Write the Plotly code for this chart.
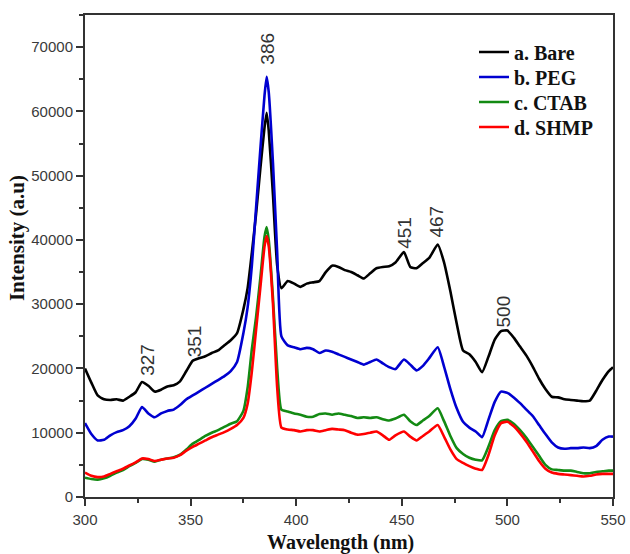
import plotly.graph_objects as go

# Photoluminescence spectra of the nanoparticles (intensity in a.u.)
wavelength = [300, 303, 306, 309, 312, 315, 318, 321, 324, 327, 330, 333, 336, 339, 342, 345, 348, 351,
              354, 357, 360, 363, 366, 369, 372, 375, 377, 379, 381, 383, 385, 386, 387, 389, 391, 393,
              396, 399, 402, 405, 408, 411, 414, 417, 420, 423, 426, 429, 432, 435, 438, 441, 444, 447,
              451, 454, 457, 460, 463, 467, 470, 473, 476, 479, 482, 485, 488, 491, 494, 497, 500, 503,
              506, 509, 512, 515, 518, 521, 524, 527, 530, 533, 536, 539, 542, 545, 548, 550]

bare = [20.0, 17.8, 15.8, 15.2, 15.1, 15.2, 15.0, 15.6, 16.3, 17.9, 17.3, 16.4, 16.7, 17.2, 17.4, 18.0, 19.6, 21.2,
        21.6, 21.9, 22.4, 22.8, 23.6, 24.4, 25.5, 29.2, 32.5, 38.0, 44.0, 51.0, 57.5, 59.8, 57.0, 47.0, 36.0, 32.5,
        33.6, 33.2, 32.7, 33.2, 33.4, 33.6, 35.0, 36.0, 35.8, 35.3, 35.0, 34.5, 34.0, 34.8, 35.6, 35.8, 35.9, 36.5,
        38.1, 35.8, 35.6, 36.4, 37.2, 39.3, 36.5, 32.0, 27.0, 22.8, 22.2, 21.0, 19.4, 21.8, 24.5, 25.8, 25.9, 24.8,
        23.4, 22.0, 20.3, 18.4, 16.8, 15.6, 15.5, 15.2, 15.1, 15.0, 14.9, 15.0, 16.5, 18.2, 19.6, 20.2]

peg = [11.5, 9.8, 8.8, 8.9, 9.6, 10.1, 10.4, 11.0, 12.2, 14.0, 13.0, 12.4, 13.0, 13.4, 13.6, 14.3, 15.2, 15.8,
       16.4, 17.0, 17.6, 18.2, 18.8, 19.6, 21.0, 25.5, 29.5, 36.0, 45.0, 54.0, 62.5, 65.4, 63.0, 52.0, 38.0, 25.0,
       23.6, 23.3, 23.0, 23.2, 23.0, 22.4, 22.8, 22.6, 22.2, 21.8, 21.4, 21.0, 20.6, 21.0, 21.4, 20.8, 20.2, 19.9,
       21.4, 20.6, 19.7, 20.4, 21.6, 23.3, 20.3, 16.8, 13.8, 11.7, 10.8, 10.2, 9.3, 12.0, 14.8, 16.4, 16.2, 15.5,
       14.6, 13.6, 12.6, 11.2, 9.8, 8.5, 7.7, 7.5, 7.6, 7.6, 7.7, 7.6, 7.9, 8.9, 9.4, 9.4]

ctab = [3.0, 2.8, 2.7, 2.9, 3.3, 3.8, 4.2, 4.8, 5.3, 5.9, 5.8, 5.5, 5.8, 6.0, 6.2, 6.6, 7.4, 8.3,
        8.9, 9.5, 10.0, 10.4, 10.9, 11.4, 11.8, 13.4, 17.0, 23.0, 28.0, 34.0, 40.5, 42.0, 40.0, 31.0, 20.0, 13.6,
        13.3, 13.0, 12.8, 12.5, 12.5, 12.9, 13.0, 12.8, 13.0, 12.8, 12.6, 12.3, 12.4, 12.3, 12.4, 12.1, 11.9, 12.2,
        12.8, 11.8, 11.2, 11.9, 12.6, 13.8, 11.8, 9.5, 7.6, 6.7, 6.1, 5.8, 5.7, 7.8, 10.4, 11.8, 12.0, 11.4,
        10.4, 9.2, 7.8, 6.4, 5.0, 4.3, 4.2, 4.1, 4.1, 3.9, 3.7, 3.7, 3.9, 4.0, 4.1, 4.1]

shmp = [3.8, 3.3, 3.1, 3.2, 3.6, 4.0, 4.4, 4.9, 5.4, 6.0, 5.9, 5.6, 5.8, 6.0, 6.1, 6.5, 7.2, 7.8,
        8.3, 8.8, 9.3, 9.7, 10.1, 10.6, 11.2, 12.3, 14.5, 19.5, 26.0, 32.5, 39.0, 40.6, 39.0, 30.0, 17.0, 10.8,
        10.5, 10.4, 10.2, 10.4, 10.4, 10.2, 10.4, 10.6, 10.5, 10.4, 10.0, 9.7, 9.8, 10.0, 10.2, 9.6, 8.9, 9.6,
        10.2, 9.4, 8.8, 9.5, 10.2, 11.2, 9.4, 7.4, 5.9, 5.3, 4.8, 4.4, 4.2, 6.5, 9.6, 11.5, 11.7, 11.0,
        9.9, 8.6, 7.1, 5.6, 4.4, 3.8, 3.6, 3.5, 3.4, 3.3, 3.2, 3.3, 3.5, 3.6, 3.6, 3.6]

series_names = ["a. Bare", "b. PEG", "c. CTAB", "d. SHMP"]
series_colors = ["#000000", "#0000d0", "#138a13", "#ff0000"]

# Peak positions marked on the spectra, with where each label sits
peak_wl = [386, 327, 351, 451, 467, 500]
peak_y = [69700, 21300, 24200, 41100, 42800, 28900]
peak_x_pos = [386, 329.2, 352, 451.5, 466.5, 498]

legend_font = dict(family="Liberation Serif, Times New Roman", size=20, color="#111111", weight="bold")
# one single-entry legend per spectrum, stacked in the upper right corner
legend_ids = ["legend", "legend2", "legend3", "legend4"]
legend_rows_px = [52, 77, 102, 127]

fig = go.Figure()
for name, color, vals, lid in zip(series_names, series_colors, [bare, peg, ctab, shmp], legend_ids):
    fig.add_trace(go.Scatter(
        x=wavelength, y=[v * 1000 for v in vals], mode="lines", name=name,
        line=dict(color=color, width=2.6, shape="spline", smoothing=0.5),
        legend=lid, showlegend=True,
    ))

for wl, xp, yp in zip(peak_wl, peak_x_pos, peak_y):
    fig.add_annotation(x=xp, y=yp, text=str(wl), showarrow=False, textangle=-90,
                       font=dict(family="Liberation Sans, Arial", size=19, color="#333333"))

title_font = dict(family="Liberation Serif, Times New Roman", size=21, color="#111111", weight="bold")
fig.add_annotation(xref="paper", yref="paper", x=0.483, y=-0.0934, text="Wavelength (nm)",
                   showarrow=False, font=dict(title_font, size=20), xanchor="center", yanchor="middle")
fig.add_annotation(xref="paper", yref="paper", x=-0.129, y=0.537, text="Intensity (a.u)",
                   showarrow=False, textangle=-90, font=title_font, xanchor="center", yanchor="middle")

tick_font = dict(family="Liberation Sans, Arial", size=15, color="#3a3a3a")
fig.update_xaxes(
    range=[300, 550], tickvals=[300, 350, 400, 450, 500, 550], ticks="outside", ticklen=7,
    tickwidth=1.5, tickcolor="#333", showline=True, linecolor="#333", linewidth=2, mirror=True,
    showgrid=False, zeroline=False, tickfont=tick_font, ticklabelstandoff=1,
    minor=dict(dtick=25, tick0=300, ticks="outside", ticklen=4, tickwidth=1.5, tickcolor="#333"),
)
fig.update_yaxes(
    range=[0, 75000], tickvals=[0, 10000, 20000, 30000, 40000, 50000, 60000, 70000],
    ticktext=["0", "10000", "20000", "30000", "40000", "50000", "60000", "70000"],
    ticks="outside", ticklen=7, tickwidth=1.5, tickcolor="#333", showline=True, linecolor="#333",
    linewidth=2, mirror=True, showgrid=False, zeroline=False, tickfont=tick_font,
    minor=dict(dtick=5000, tick0=0, ticks="outside", ticklen=4, tickwidth=1.5, tickcolor="#333"),
)

layout_legends = {}
for lid, row in zip(legend_ids, legend_rows_px):
    layout_legends[lid] = dict(
        xref="container", yref="container", x=474 / 630, y=1 - row / 554,
        xanchor="left", yanchor="middle", bgcolor="rgba(0,0,0,0)", font=legend_font,
    )

fig.update_layout(
    width=630, height=554, margin=dict(l=85, r=17, t=15, b=57, autoexpand=False),
    paper_bgcolor="white", plot_bgcolor="white", showlegend=True,
    **layout_legends,
)

fig.write_html("out.html")
